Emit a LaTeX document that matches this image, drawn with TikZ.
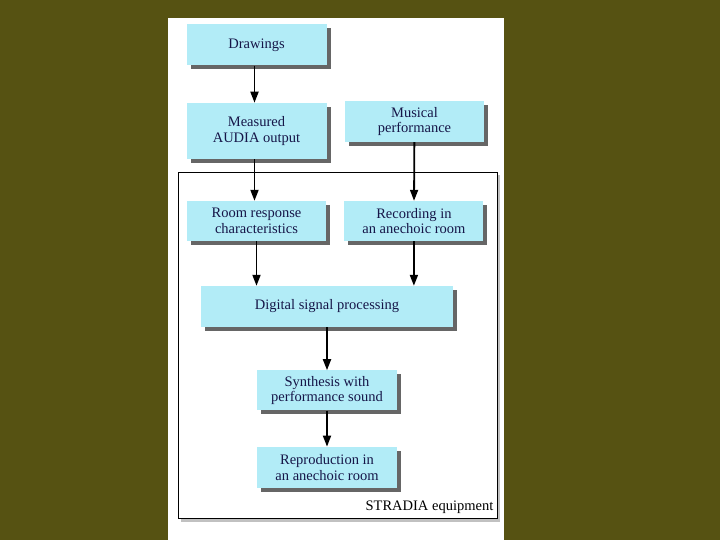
\documentclass[tikz,border=0pt]{standalone}
\usepackage{fontspec}
\setmainfont{Liberation Serif}
\usetikzlibrary{arrows.meta, positioning, shadows}

\definecolor{olivebg}{RGB}{86,82,18}
\definecolor{boxfill}{RGB}{178,236,247}
\definecolor{inkblue}{RGB}{22,22,72}

\begin{document}
\begin{tikzpicture}[
    x=1pt, y=-1pt,
    font=\fontsize{14.5}{15.5}\selectfont,
    box/.style={rectangle, fill=boxfill, text=inkblue, inner sep=0pt, minimum width=140pt, minimum height=41pt, align=center,
        drop shadow={shadow xshift=4pt, shadow yshift=-4pt, fill=black!80, opacity=0.75}},
    frame/.style={rectangle, draw=black, fill=white, line width=1pt, inner sep=0pt,
        drop shadow={shadow xshift=3pt, shadow yshift=-3pt, fill=black!40, opacity=0.6}},
    arrow/.style={-{Triangle[length=11pt, width=8pt]}, line width=1.8pt, draw=black}
]
% --- BACKGROUND ---
\useasboundingbox [fill=olivebg] (0,0) rectangle (720,540);
\fill [white] (168,18) rectangle (504,540);

% --- EQUIPMENT FRAME ---
\node (equip) [frame, minimum width=319pt, minimum height=346pt] at (337.5,345.5) {};
\node (equiplabel) [anchor=south east, text=black, inner sep=0pt] at ([xshift=-4pt, yshift=5pt]equip.south east) {STRADIA equipment};

% --- NODES ---
\node (drawings) [box] at (256.5,45) {Drawings};
\node (measured) [box, minimum height=56pt, below=37pt of drawings] {Measured\\AUDIA output};
\node (musical) [box, minimum width=139pt] at (414.5,121.5) {Musical\\performance};
\node (room) [box, minimum width=139pt, minimum height=40pt] at (256.5,221) {Room response\\characteristics};
\node (recording) [box, minimum width=139pt, minimum height=40pt, right=18pt of room] {Recording in\\an anechoic room};
\node (dsp) [box, minimum width=252pt] at (327,306.5) {Digital signal processing};
\node (synthesis) [box, minimum height=40pt, below=43pt of dsp] {Synthesis with\\performance sound};
\node (reproduction) [box, below=36pt of synthesis] {Reproduction in\\an anechoic room};

% --- CONNECTIONS ---
\draw [arrow] ([xshift=-2pt]drawings.south) -- ([xshift=-2pt]measured.north);
\draw [arrow] ([xshift=-2pt]measured.south) -- ([xshift=-2pt]room.north);
\draw [arrow] (musical) -- (recording);
\draw [arrow] (room.south) -- (room.south |- dsp.north);
\draw [arrow] (recording.south) -- (recording.south |- dsp.north);
\draw [arrow] (dsp) -- (synthesis);
\draw [arrow] (synthesis) -- (reproduction);

\end{tikzpicture}
\end{document}
